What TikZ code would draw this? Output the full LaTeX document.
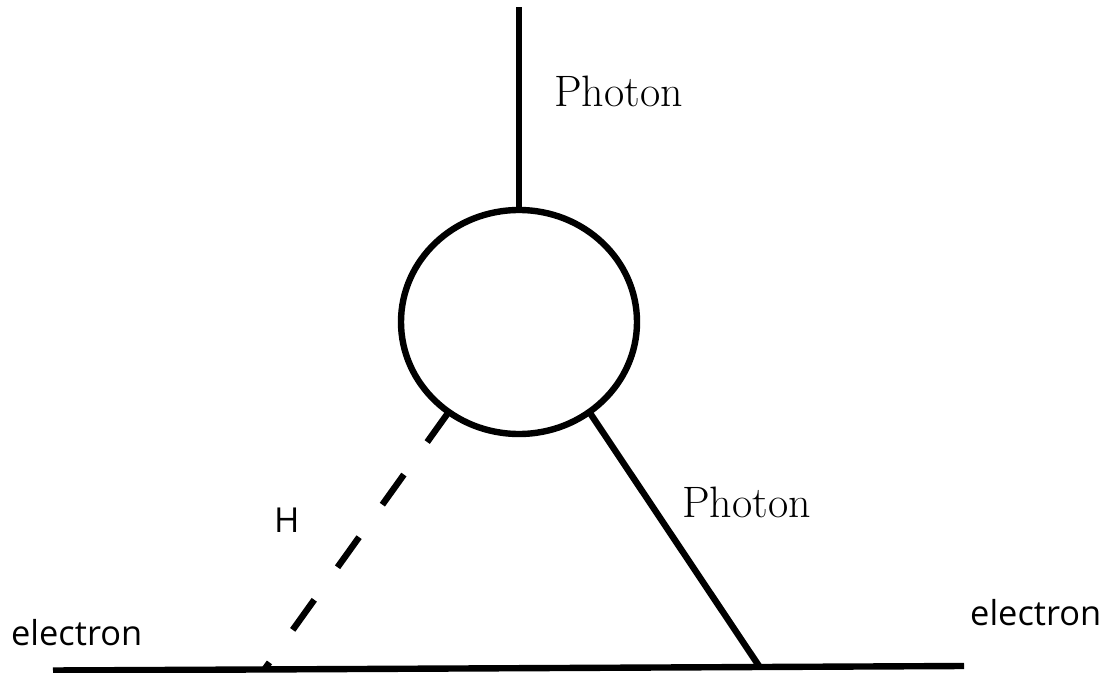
\documentclass[tikz,border=0pt]{standalone}
\usepackage{fontspec}
\newfontfamily\labelsans{Open Sans}
\usetikzlibrary{shapes.geometric}

\begin{document}
\begin{tikzpicture}[x=0.5pt,y=-0.5pt,line width=3.2pt,
  propagator/.style={draw=black},
  scalar/.style={draw=black,dash pattern=on 18.5pt off 20pt},
  serif-label/.style={anchor=base west,inner sep=0pt,font=\fontsize{22}{26}\selectfont},
  sans-label/.style={anchor=base west,inner sep=0pt,font=\labelsans\fontsize{17.2}{20}\selectfont}]
\useasboundingbox (0,0) rectangle (1108,673);
\node[ellipse,draw=black,outer sep=0pt,minimum width=118pt,minimum height=112pt] (loop) at (519,322) {};
\coordinate (photon-top-end) at (519,7);
\coordinate (electron-in) at (53,670.5);
\coordinate (electron-out) at (964,666);
\coordinate (vertex-h) at (264,670);
\coordinate (vertex-photon) at (760,667.5);
\path[propagator] (electron-in) -- (electron-out);
\path[propagator] (loop.north) -- (photon-top-end);
\path[propagator] (loop.308.1) -- (vertex-photon);
\path[scalar] (loop.232.6) -- (vertex-h);
\node[serif-label] (label-photon-top) at (551,107) {Photon};
\node[serif-label] (label-photon-side) at (679,517) {Photon};
\node[sans-label] (label-h) at (271,532) {H};
\node[sans-label] (label-electron-in) at (8,645) {electron};
\node[sans-label] (label-electron-out) at (967,625) {electron};
\end{tikzpicture}
\end{document}
